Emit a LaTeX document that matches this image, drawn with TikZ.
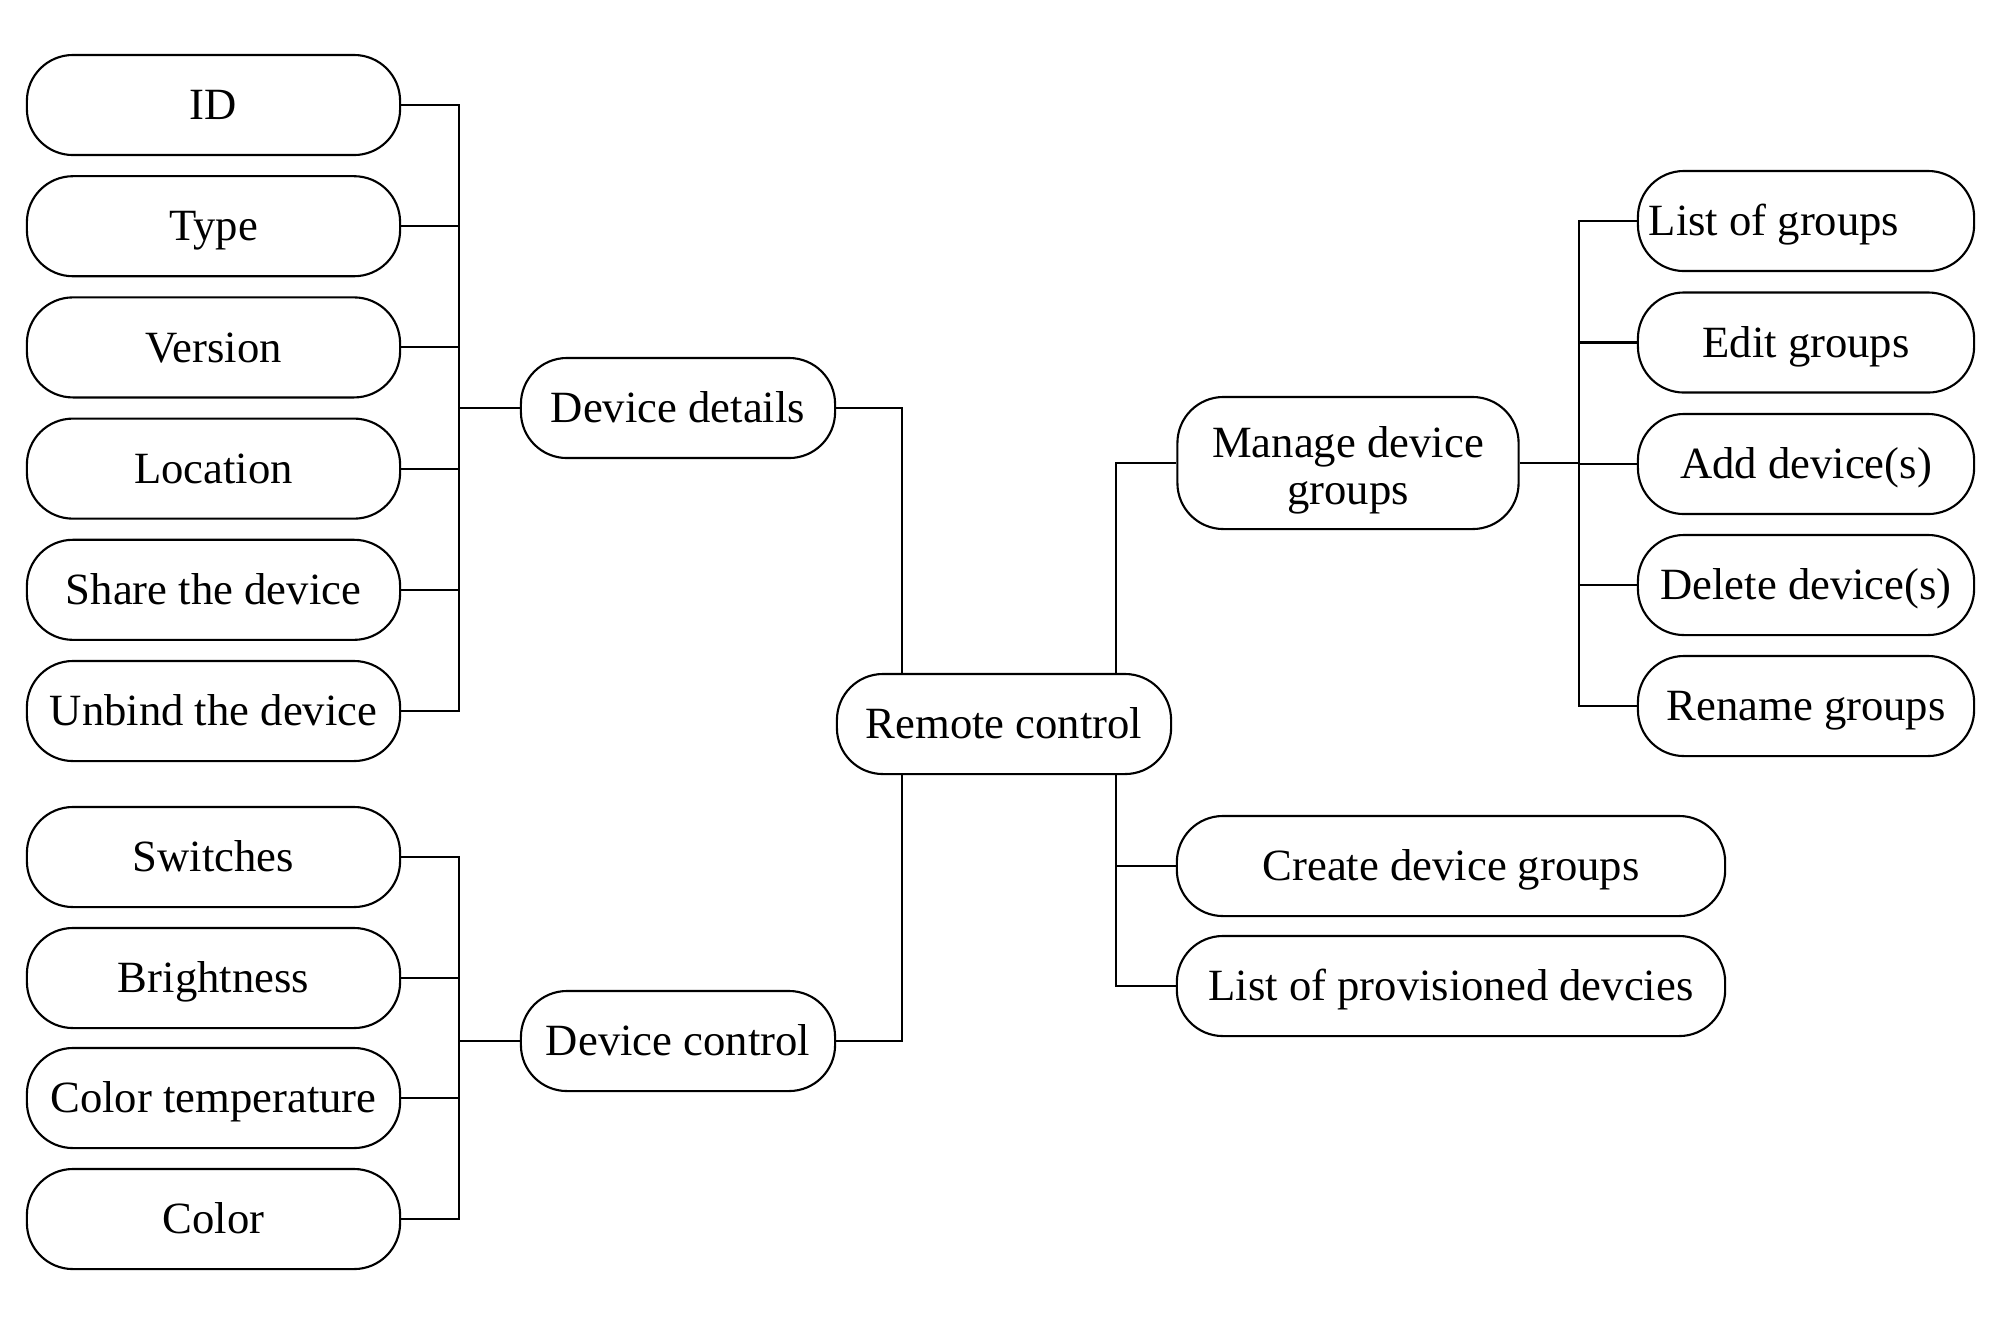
\documentclass[tikz,border=0pt]{standalone}
\usepackage{fontspec}
\setmainfont{Liberation Serif}
\begin{document}
\begin{tikzpicture}[x=0.01cm,y=-0.01cm,
  base/.style={draw=black, line width=0.6pt, rounded corners=0.46cm, minimum height=1.0cm, inner sep=0pt, font=\fontsize{12.7}{13.4}\selectfont},
  box/.style={base, text height=11.2pt, text depth=2.8pt},
  lbox/.style={box, minimum width=3.73cm},
  mbox/.style={box, minimum width=3.14cm},
  rbox/.style={box, minimum width=3.36cm},
  wbox/.style={box, minimum width=5.48cm},
  conn/.style={draw=black, line width=0.6pt}]
\useasboundingbox (0,0) rectangle (2001,1326);
% left column
\node[lbox] (id) at (213.5,105) {ID};
\node[lbox] (ty) at (213.5,226.2) {Type};
\node[lbox] (ve) at (213.5,347.4) {Version};
\node[lbox] (lo) at (213.5,468.6) {Location};
\node[lbox] (sh) at (213.5,589.8) {Share the device};
\node[lbox] (ub) at (213.5,711) {Unbind the device};
\node[lbox] (sw) at (213.5,857) {Switches};
\node[lbox] (br) at (213.5,978) {Brightness};
\node[lbox] (ct) at (213.5,1098) {Color temperature};
\node[lbox] (co) at (213.5,1219) {Color};
% middle
\node[mbox] (dd) at (678,408) {Device details};
\node[mbox] (dc) at (678,1041) {Device control};
\node[box, minimum width=3.34cm] (rc) at (1004,724) {Remote control};
\node[base, minimum width=3.41cm, minimum height=1.32cm, text height=17.5pt, text depth=6.4pt] (mg) at (1348,463) {\begin{tabular}{@{}c@{}}Manage device\\groups\end{tabular}};
\node[wbox] (cg) at (1451,866) {Create device groups};
\node[wbox] (lp) at (1451,986) {List of provisioned devcies};
% right column
\node[rbox] (lg) at (1806,221) {};
\node[anchor=west, inner sep=0pt, text height=11.2pt, text depth=2.8pt, font=\fontsize{12.7}{13.4}\selectfont] (lgt) at (1648,221) {List of groups};
\node[rbox] (eg) at (1806,342.5) {Edit groups};
\node[rbox] (ad) at (1806,464) {Add device(s)};
\node[rbox] (de) at (1806,585) {Delete device(s)};
\node[rbox] (rg) at (1806,706) {Rename groups};
% junction coordinates
\coordinate (tl) at (459,0);
\coordinate (jl) at (902,0);
\coordinate (jr) at (1116,0);
\coordinate (rl) at (1579,0);
% left trunk (details)
\foreach \n in {id,ty,ve,lo,sh,ub} {\draw[conn] (\n.east) -| (tl |- dd.west);}
\draw[conn] (tl |- dd.west) -- (dd.west);
% left trunk (control)
\foreach \n in {sw,br,ct,co} {\draw[conn] (\n.east) -| (tl |- dc.west);}
\draw[conn] (tl |- dc.west) -- (dc.west);
% middle to remote
\draw[conn] (dd.east) -| (jl |- rc.north);
\draw[conn] (dc.east) -| (jl |- rc.south);
% remote to right
\draw[conn] (jr |- rc.north) |- (mg.west);
\draw[conn] (jr |- rc.south) |- (lp.west);
\draw[conn] (cg.west) -- (jr |- cg.west);
% right trunk
\draw[conn] (mg.east) -- (rl |- mg.east);
\foreach \n in {lg,eg,ad,de,rg} {\draw[conn] (\n.west) -| (rl |- mg.east);}
\end{tikzpicture}
\end{document}
